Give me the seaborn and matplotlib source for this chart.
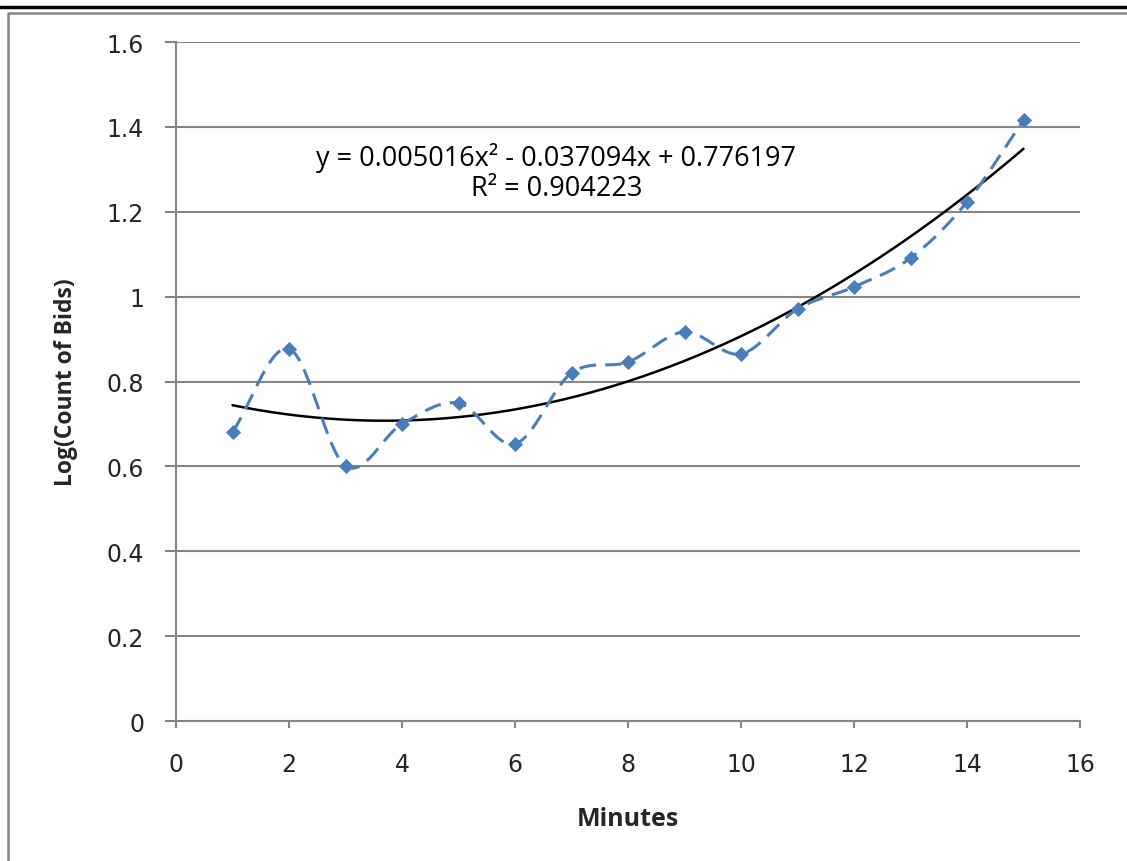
import numpy as np
import pandas as pd
import matplotlib
matplotlib.use("Agg")
import matplotlib.pyplot as plt
from matplotlib.lines import Line2D
import seaborn as sns

# Observed values
minutes = [1, 2, 3, 4, 5, 6, 7, 8, 9, 10, 11, 12, 13, 14, 15]
log_bids = [0.681, 0.877, 0.601, 0.700, 0.749, 0.653, 0.820, 0.846,
            0.917, 0.865, 0.971, 1.023, 1.091, 1.223, 1.416]

# Quadratic trendline coefficients (highest power first) and fit quality
trend_coef = [0.005016, -0.037094, 0.776197]
r_squared = 0.904223

x_ticks = [0, 2, 4, 6, 8, 10, 12, 14, 16]
y_ticks = [0, 0.2, 0.4, 0.6, 0.8, 1.0, 1.2, 1.4, 1.6]
y_tick_labels = ["0", "0.2", "0.4", "0.6", "0.8", "1", "1.2", "1.4", "1.6"]

BLUE = "#4A7EBB"
GRID = "#868686"
TEXT_FONT = ["Open Sans", "DejaVu Sans"]


def catmull_rom(xs, ys, n=30):
    """Smooth curve passing through every point (uniform Catmull-Rom)."""
    xs = np.asarray(xs, float)
    ys = np.asarray(ys, float)
    px = np.concatenate([[2 * xs[0] - xs[1]], xs, [2 * xs[-1] - xs[-2]]])
    py = np.concatenate([[2 * ys[0] - ys[1]], ys, [2 * ys[-1] - ys[-2]]])
    out_x, out_y = [], []
    t = np.linspace(0, 1, n, endpoint=False)
    for i in range(1, len(px) - 2):
        for arr, out in ((px, out_x), (py, out_y)):
            p0, p1, p2, p3 = arr[i - 1], arr[i], arr[i + 1], arr[i + 2]
            seg = 0.5 * ((2 * p1) + (-p0 + p2) * t +
                         (2 * p0 - 5 * p1 + 4 * p2 - p3) * t ** 2 +
                         (-p0 + 3 * p1 - 3 * p2 + p3) * t ** 3)
            out.extend(seg)
    out_x.append(xs[-1])
    out_y.append(ys[-1])
    return np.array(out_x), np.array(out_y)


sns.set_theme(style="white")
plt.rcParams["font.family"] = ["DejaVu Sans"]

fig = plt.figure(figsize=(11.27, 8.62), dpi=100)
ax = fig.add_axes([0.1562, 0.1624, 0.8021, 0.7877])

df = pd.DataFrame({"Minutes": minutes, "LogBids": log_bids})

# Smoothed dashed series line
sx, sy = catmull_rom(minutes, log_bids)
smooth = pd.DataFrame({"x": sx, "y": sy})
sns.lineplot(data=smooth, x="x", y="y", ax=ax, color=BLUE, lw=2.2,
             sort=False, estimator=None, zorder=3)
ax.lines[-1].set_dashes([5.5, 3])

# Diamond markers
sns.scatterplot(data=df, x="Minutes", y="LogBids", ax=ax, marker="D",
                s=60, color=BLUE, edgecolor=BLUE, linewidth=0, zorder=4)

# Polynomial trendline
tx = np.linspace(minutes[0], minutes[-1], 300)
ty = np.polyval(trend_coef, tx)
sns.lineplot(x=tx, y=ty, ax=ax, color="black", lw=1.8, zorder=2,
             estimator=None, sort=False)

eq = "y = {:.6f}x² - {:.6f}x + {:.6f}".format(trend_coef[0], -trend_coef[1],
                                              trend_coef[2])
ax.text(6.73, 1.329, eq, ha="center", va="center", fontsize=19.5,
        family=TEXT_FONT, color="black")
ax.text(6.73, 1.256, "R² = {:.6f}".format(r_squared), ha="center",
        va="center", fontsize=19.5, family=TEXT_FONT, color="black")

ax.set_xlim(0, 16)
ax.set_ylim(0, 1.6)
ax.set_xticks(x_ticks)
ax.set_xticklabels([str(v) for v in x_ticks])
ax.set_yticks(y_ticks)
ax.set_yticklabels(y_tick_labels)

ax.grid(False)
for yv in y_ticks[1:]:
    ax.axhline(yv, color=GRID, lw=1.5, zorder=1)

for side in ("top", "right"):
    ax.spines[side].set_visible(False)
for side in ("left", "bottom"):
    ax.spines[side].set_color(GRID)
    ax.spines[side].set_linewidth(1.5)

ax.tick_params(axis="y", direction="out", length=8, width=1.5, color=GRID,
               pad=15, labelsize=17, left=True)
ax.tick_params(axis="x", direction="out", length=5, width=1.5, color=GRID,
               pad=17, labelsize=17, bottom=True)

ax.set_xlabel("Minutes", fontsize=18, fontweight="bold", family=TEXT_FONT)
ax.set_ylabel("Log(Count of Bids)", fontsize=16.5, fontweight="bold",
              family=TEXT_FONT)
ax.xaxis.label.set_va("center")
ax.yaxis.label.set_va("center")
ax.xaxis.set_label_coords(0.5, -0.1443)
ax.yaxis.set_label_coords(-0.1217, 0.5)

# Page rule and chart frame
fig.add_artist(Line2D([0, 1], [1 - 8 / 862, 1 - 8 / 862], color="black",
                      lw=2.5, transform=fig.transFigure))
fig.add_artist(Line2D([8 / 1127, 8 / 1127, 1], [0, 1 - 14 / 862, 1 - 14 / 862],
                      color=GRID, lw=1.8, transform=fig.transFigure))

fig.savefig("out.png", dpi=100, facecolor="white")
